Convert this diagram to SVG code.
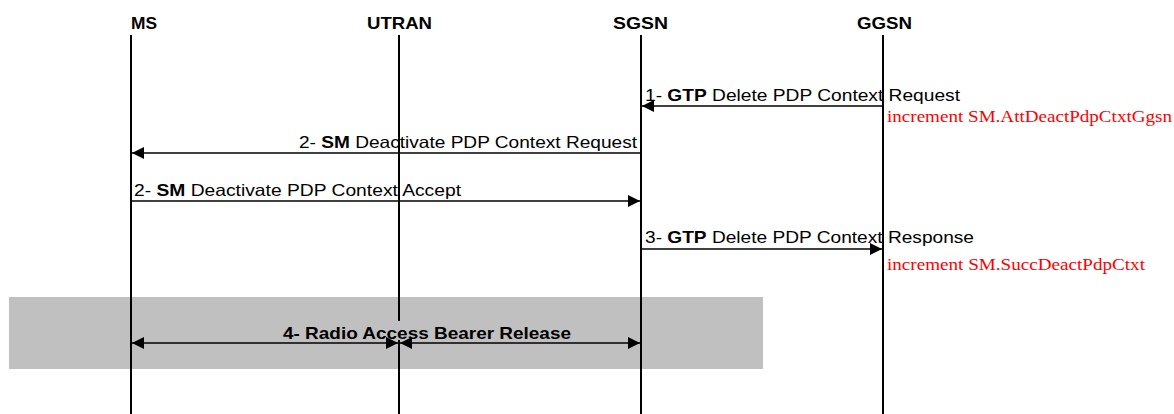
<svg xmlns="http://www.w3.org/2000/svg" width="1174" height="414" viewBox="0 0 1174 414">
<defs>
<style>
.hdr{font-family:"Liberation Sans",Arial,sans-serif;font-size:16.5px;font-weight:bold;fill:#000}
.msg{font-family:"Liberation Sans",Arial,sans-serif;font-size:16.5px;fill:#000}
.b{font-weight:bold}
.cnt{font-family:"Liberation Serif","Times New Roman",serif;font-size:16.5px;fill:#ff0000}
.life{stroke:#000;stroke-width:2}
.arr{stroke:#000;stroke-width:1.5;fill:none}
</style>
<marker id="ah" viewBox="0 0 12 12" refX="12" refY="6" markerWidth="12" markerHeight="12" markerUnits="userSpaceOnUse" orient="auto-start-reverse">
<path d="M0,0 L12,6 L0,12 Z" fill="#000"/>
</marker>
</defs>
<rect width="1174" height="414" fill="#fff"/>
<rect x="9" y="297" width="754" height="72" fill="#c0c0c0"/>
<g id="MS">
<line class="life" x1="131" y1="35" x2="131" y2="414"/>
<text class="hdr" x="131" y="29" textLength="26" lengthAdjust="spacingAndGlyphs">MS</text>
</g>
<g id="UTRAN">
<line class="life" x1="399" y1="35" x2="399" y2="321"/>
<line class="life" x1="399" y1="340" x2="399" y2="414"/>
<text class="hdr" x="367" y="29" textLength="65" lengthAdjust="spacingAndGlyphs">UTRAN</text>
</g>
<g id="SGSN">
<line class="life" x1="641" y1="35" x2="641" y2="414"/>
<text class="hdr" x="613" y="29" textLength="55" lengthAdjust="spacingAndGlyphs">SGSN</text>
</g>
<g id="GGSN">
<line class="life" x1="883" y1="35" x2="883" y2="414"/>
<text class="hdr" x="857" y="29" textLength="55" lengthAdjust="spacingAndGlyphs">GGSN</text>
</g>
<g id="connectors">
<line class="arr" x1="883" y1="106" x2="642" y2="106" marker-end="url(#ah)"/>
<text class="msg" x="645" y="101" textLength="315" lengthAdjust="spacingAndGlyphs">1- <tspan class="b">GTP</tspan> Delete PDP Context Request</text>
<text class="cnt" x="887" y="122" textLength="285" lengthAdjust="spacingAndGlyphs">increment SM.AttDeactPdpCtxtGgsn</text>
<line class="arr" x1="641" y1="153" x2="132" y2="153" marker-end="url(#ah)"/>
<text class="msg" x="299" y="148" textLength="338" lengthAdjust="spacingAndGlyphs">2- <tspan class="b">SM</tspan> Deactivate PDP Context Request</text>
<line class="arr" x1="131" y1="201" x2="640" y2="201" marker-end="url(#ah)"/>
<text class="msg" x="134" y="196" textLength="327" lengthAdjust="spacingAndGlyphs">2- <tspan class="b">SM</tspan> Deactivate PDP Context Accept</text>
<line class="arr" x1="641" y1="249" x2="882" y2="249" marker-end="url(#ah)"/>
<text class="msg" x="645" y="243" textLength="329" lengthAdjust="spacingAndGlyphs">3- <tspan class="b">GTP</tspan> Delete PDP Context Response</text>
<text class="cnt" x="887" y="270" textLength="258" lengthAdjust="spacingAndGlyphs">increment SM.SuccDeactPdpCtxt</text>
<line class="arr" x1="132" y1="343" x2="398" y2="343" marker-start="url(#ah)" marker-end="url(#ah)"/>
<line class="arr" x1="400" y1="343" x2="640" y2="343" marker-start="url(#ah)" marker-end="url(#ah)"/>
<text class="msg b" x="283" y="339" textLength="288" lengthAdjust="spacingAndGlyphs">4- Radio Access Bearer Release</text>
</g>
</svg>
